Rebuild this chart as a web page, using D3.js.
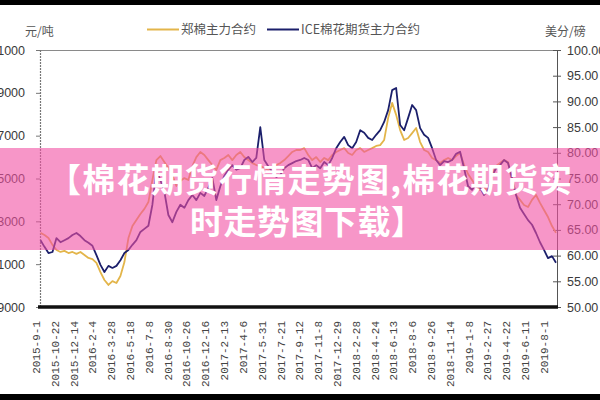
<!DOCTYPE html>
<html><head><meta charset="utf-8">
<script src="https://cdn.jsdelivr.net/npm/d3@7"></script>
<style>
html,body{margin:0;padding:0;background:#fff;}
svg{display:block;}
</style></head>
<body>
<svg id="chart" width="600" height="400"></svg>
<script>
const categories = ["2015-9-1","2015-10-22","2015-12-14","2016-2-4","2016-3-28","2016-5-18","2016-7-8","2016-8-30","2016-10-26","2016-12-16","2017-2-13","2017-4-6","2017-5-31","2017-7-21","2017-9-12","2017-11-8","2017-12-29","2018-2-28","2018-4-24","2018-6-13","2018-8-6","2018-9-26","2018-11-14","2019-1-8","2019-2-27","2019-4-22","2019-6-11","2019-8-1"];
const seriesNames = ["郑棉主力合约","ICE棉花期货主力合约"];
const zceValues = [12460,12360,12220,11900,11660,11570,11620,11520,11570,11480,11570,11430,11290,11240,11060,10630,10260,10030,10210,10120,10450,11100,12220,12780,13060,13340,13580,13900,14930,15860,16050,15770,15490,15160,14650,14880,15020,14930,15580,16000,16240,16100,15860,15630,15400,15860,15960,16100,15860,16100,16240,16000,15860,15720,15630,15580,15490,15400,15540,15630,15720,15860,16050,16240,16330,16330,16420,16100,15860,16000,15770,15960,15860,16100,16240,16330,16420,16190,16100,16330,16420,16240,16330,16420,16520,16560,16800,17830,18530,17970,17260,16800,16890,17120,17360,16700,16330,16240,15960,15860,15720,15860,15960,15860,16050,16190,15630,15210,14930,14650,14460,14560,14460,15160,15580,15720,15860,15770,14840,14230,14000,13760,13670,14000,14230,13860,13530,13200,12780,12460];
const iceValues = [63.0,61.7,60.5,60.7,63.4,62.6,63.0,63.4,64.0,64.4,63.8,63.0,62.5,61.9,60.1,58.2,56.8,58.0,57.6,58.0,59.1,60.5,61.1,62.1,63.0,64.6,65.2,65.8,69.9,76.7,74.7,72.4,67.9,66.5,68.5,69.9,69.3,70.8,71.8,70.8,72.2,71.6,73.2,75.1,70.8,73.5,75.5,76.7,77.6,76.7,77.0,78.6,79.2,78.2,79.0,85.0,78.6,77.4,76.3,75.3,75.7,77.0,77.6,78.0,78.4,78.6,79.0,78.6,77.0,77.6,77.0,78.2,77.6,79.0,80.9,82.1,83.1,81.5,80.9,82.1,84.4,83.9,82.9,82.5,83.5,84.4,86.0,88.3,92.2,92.6,85.4,84.4,86.8,89.3,88.3,84.8,83.5,82.9,80.9,78.6,77.6,78.4,78.2,78.6,79.8,80.2,77.0,73.5,72.8,73.9,73.2,71.8,72.8,75.5,77.0,77.6,78.6,78.0,75.1,71.8,69.3,68.1,66.9,66.0,64.4,62.6,61.1,59.5,59.9,58.6];
const leftTicks = [9000,11000,13000,15000,17000,19000,21000];
const rightTicks = [50,55,60,65,70,75,80,85,90,95,100];
const leftUnit = "元/吨";
const rightUnit = "美分/磅";
const bannerLines = ["【棉花期货行情走势图,棉花期货实","时走势图下载】"];

const svg = d3.select("#chart");
const plot = {left:40, right:557, top:50, bottom:307};
const colors = {zce:"#e3b54a", ice:"#1b1f6b"};

const xData = d3.scaleLinear().domain([0, zceValues.length-1]).range([plot.left+0.5, plot.right-1]);
const xCat = d3.scalePoint().domain(categories).range([35.5, 543.4]);
const yL = d3.scaleLinear().domain([9000,21000]).range([plot.bottom, plot.top]);
const yR = d3.scaleLinear().domain([50,100]).range([plot.bottom, plot.top]);

// frame
svg.append("line").attr("x1",plot.left).attr("x2",plot.right).attr("y1",plot.top+0.5).attr("y2",plot.top+0.5)
  .attr("stroke","#8a8a8a").attr("stroke-width",1);

// left axis
const gL = svg.append("g").attr("transform",`translate(${plot.left},0)`)
  .call(d3.axisLeft(yL).tickValues(leftTicks).tickSize(4).tickPadding(11).tickFormat(d3.format("d")));
gL.select(".domain").remove();
gL.selectAll(".tick line").attr("stroke","#777");
gL.selectAll("text").attr("fill","#3a3a3a").style("font-family","'Liberation Sans', Arial, sans-serif").style("font-size","12.5px");
svg.append("line").attr("x1",plot.left+0.5).attr("x2",plot.left+0.5).attr("y1",plot.top).attr("y2",plot.bottom)
  .attr("stroke","#777").attr("stroke-width",1.2).attr("stroke-dasharray","2,1");

// right axis
const gR = svg.append("g").attr("transform",`translate(${plot.right},0)`)
  .call(d3.axisRight(yR).tickValues(rightTicks).tickSize(4).tickPadding(6).tickFormat(d3.format(".2f")));
gR.select(".domain").attr("stroke","#555").attr("d",`M0.5,${plot.top}V${plot.bottom}`);
gR.selectAll(".tick line").attr("stroke","#555").attr("x1",-4);
gR.selectAll("text").attr("fill","#3a3a3a").style("font-family","'Liberation Sans', Arial, sans-serif").style("font-size","12.5px");

// bottom axis labels
const gB = svg.append("g").attr("transform",`translate(0,${plot.bottom})`)
  .call(d3.axisBottom(xCat).tickSize(0).tickPadding(0));
gB.select(".domain").remove();
gB.selectAll(".tick text")
  .attr("transform","rotate(-90)")
  .attr("text-anchor","end")
  .attr("x",-14).attr("y",0).attr("dy","0.36em")
  .attr("fill","#444")
  .style("font-family","'Liberation Mono', 'DejaVu Sans Mono', monospace")
  .style("font-size","11px");

// series
const lineL = d3.line().x((d,i)=>xData(i)).y(d=>yL(d));
const lineR = d3.line().x((d,i)=>xData(i)).y(d=>yR(d));
svg.append("path").datum(zceValues).attr("d",lineL).attr("fill","none").attr("stroke",colors.zce).attr("stroke-width",1.8).attr("stroke-linejoin","round");
svg.append("path").datum(iceValues).attr("d",lineR).attr("fill","none").attr("stroke",colors.ice).attr("stroke-width",1.8).attr("stroke-linejoin","round");

// bottom thick line
svg.append("line").attr("x1",plot.left-2).attr("x2",plot.right+1).attr("y1",plot.bottom).attr("y2",plot.bottom)
  .attr("stroke","#111").attr("stroke-width",3.5);

// unit titles
const cjk = "'Noto Sans CJK SC', 'Noto Sans', sans-serif";
svg.append("text").attr("x",25).attr("y",36).text(leftUnit).attr("fill","#555").style("font-family",cjk).style("font-size","12px");
svg.append("text").attr("x",545).attr("y",36).text(rightUnit).attr("fill","#555").style("font-family",cjk).style("font-size","12px");

// legend
const legend = [{name:seriesNames[0], color:colors.zce, x:147},{name:seriesNames[1], color:colors.ice, x:267}];
legend.forEach(l=>{
  svg.append("line").attr("x1",l.x).attr("x2",l.x+32).attr("y1",29.5).attr("y2",29.5).attr("stroke",l.color).attr("stroke-width",2);
  svg.append("text").attr("x",l.x+34).attr("y",34).text(l.name).attr("fill","#555").style("font-family",cjk).style("font-size","12.5px");
});

// banner overlay
svg.append("rect").attr("x",0).attr("y",148).attr("width",600).attr("height",102).attr("fill","rgb(242,80,163)").attr("fill-opacity",0.6);
svg.append("text").attr("x",48).attr("y",192).text(bannerLines[0])
  .attr("textLength",524).attr("lengthAdjust","spacing")
  .attr("fill","#fff").style("font-family",cjk).style("font-weight","700").style("font-size","33px");
svg.append("text").attr("x",190).attr("y",234).text(bannerLines[1])
  .attr("textLength",234).attr("lengthAdjust","spacing")
  .attr("fill","#fff").style("font-family",cjk).style("font-weight","700").style("font-size","33px");

// black bars
svg.append("rect").attr("x",0).attr("y",0).attr("width",600).attr("height",5).attr("fill","#000");
svg.append("rect").attr("x",0).attr("y",394).attr("width",600).attr("height",6).attr("fill","#000");
</script>
</body></html>
